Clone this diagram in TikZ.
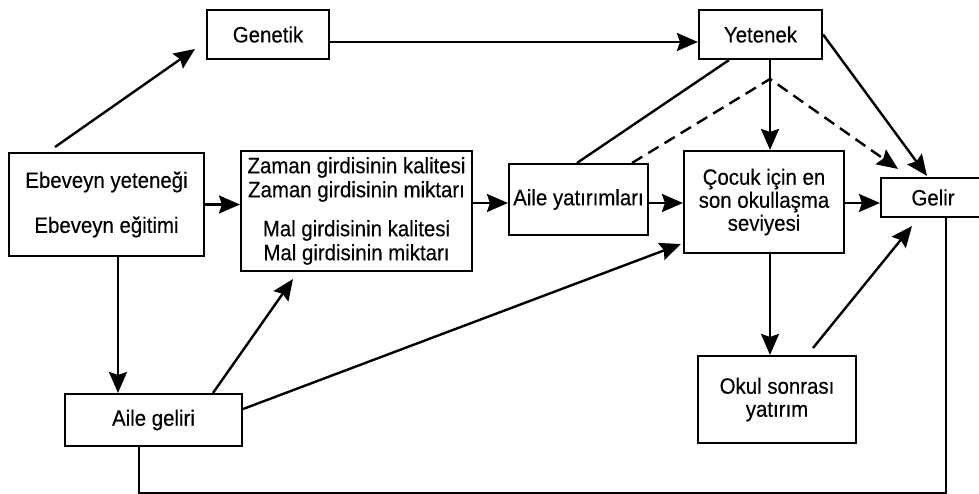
\documentclass[tikz,border=0pt]{standalone}
\usepackage{fontspec}
\setmainfont{Liberation Sans}[FakeStretch=0.92,FakeBold=0.3]
\usetikzlibrary{arrows.meta,calc}
\begin{document}
\begin{tikzpicture}[x=1pt,y=-1pt,
  box/.style={draw, line width=2.1pt, inner sep=0pt, align=center,
    font=\fontsize{22.2}{24}\selectfont},
  tip/.style={-{Stealth[length=21pt,width=18pt,inset=3pt]}},
  arr/.style={line width=2.4pt, tip},
  ln/.style={line width=2.4pt},
  dsh/.style={line width=2.4pt, dash pattern=on 12pt off 7pt}]
\useasboundingbox (0,0) rectangle (979,494);

% boxes
\node[box, minimum width=122pt, minimum height=49pt] (gen) at (268,34.5) {Genetik};
\node[box, minimum width=123pt, minimum height=49pt] (yet) at (760.5,34.5) {Yetenek};
\node[box, minimum width=195pt, minimum height=103pt] (ebe) at (106.5,204.5)
  {Ebeveyn yeteneği\\[21pt]Ebeveyn eğitimi};
\node[box, minimum width=231pt, minimum height=120pt] (zam) at (356.5,211)
  {Zaman girdisinin kalitesi\\Zaman girdisinin miktarı\\[15pt]Mal girdisinin kalitesi\\Mal girdisinin miktarı};
\node[box, minimum width=139pt, minimum height=71pt] (aya) at (578.5,199.5) {Aile yatırımları};
\node[box, minimum width=160pt, minimum height=102pt, font=\fontsize{22.2}{23}\selectfont] (coc) at (764,202)
  {Çocuk için en\\son okullaşma\\seviyesi};
\node[box, minimum width=104pt, minimum height=39pt] (gel) at (933,197.5) {Gelir};
\node[box, minimum width=177pt, minimum height=52pt] (agl) at (153.5,420) {Aile geliri};
\node[box, minimum width=158pt, minimum height=87pt, font=\fontsize{22.2}{23}\selectfont] (oku) at (777,399.5)
  {Okul sonrası\\yatırım};

% helper coordinates
\coordinate (mid) at (0,203);
\coordinate (vx) at (770,0);
\coordinate (peak) at (770,79);
\coordinate (eg1) at (55,147);
\coordinate (eg2) at (195,49);
\coordinate (og1) at (813,348);

% connectors
\draw[arr] (eg1) -- (eg2);
\draw[arr] ($(gen.east)+(0,7.5)$) -- ($(yet.west)+(0,7.5)$);
\draw[arr] (ebe.east) -- (ebe.east -| zam.west);
\draw[arr] ($(ebe.south)+(11.5,0)$) coordinate (q) -- (q |- agl.north);
\draw[arr] ($(agl.north)+(59.5,0)$) -- ($(zam.south)+(-63.5,7)$);
\draw[arr] ($(agl.east)+(0,-11)$) -- ($(coc.south west)+(-2,-10)$);
\draw[arr] (zam.east |- mid) -- (aya.west |- mid);
\draw[arr] (aya.east |- mid) -- (coc.west |- mid);
\draw[arr] (coc.east |- mid) -- (gel.west |- mid);
\draw[ln] ($(yet.south)+(-31.5,0)$) -- ($(aya.north)+(-1.5,0)$);
\draw[dsh, tip] ($(aya.north)+(53.5,0)$) -- (peak) -- ($(gel.north)+(-35,-8)$);
\draw[arr] (vx |- yet.south) -- (vx |- coc.north);
\draw[arr] (yet.east) -- ($(gel.north)+(-6,-1)$);
\draw[arr] (vx |- coc.south) -- (vx |- oku.north);
\draw[arr] (og1) -- ($(gel.south)+(-21,8)$);
\draw[ln] ($(agl.south)+(-14.5,0)$) -- ++(0,46) -| ($(gel.south)+(13,0)$);
\end{tikzpicture}
\end{document}
